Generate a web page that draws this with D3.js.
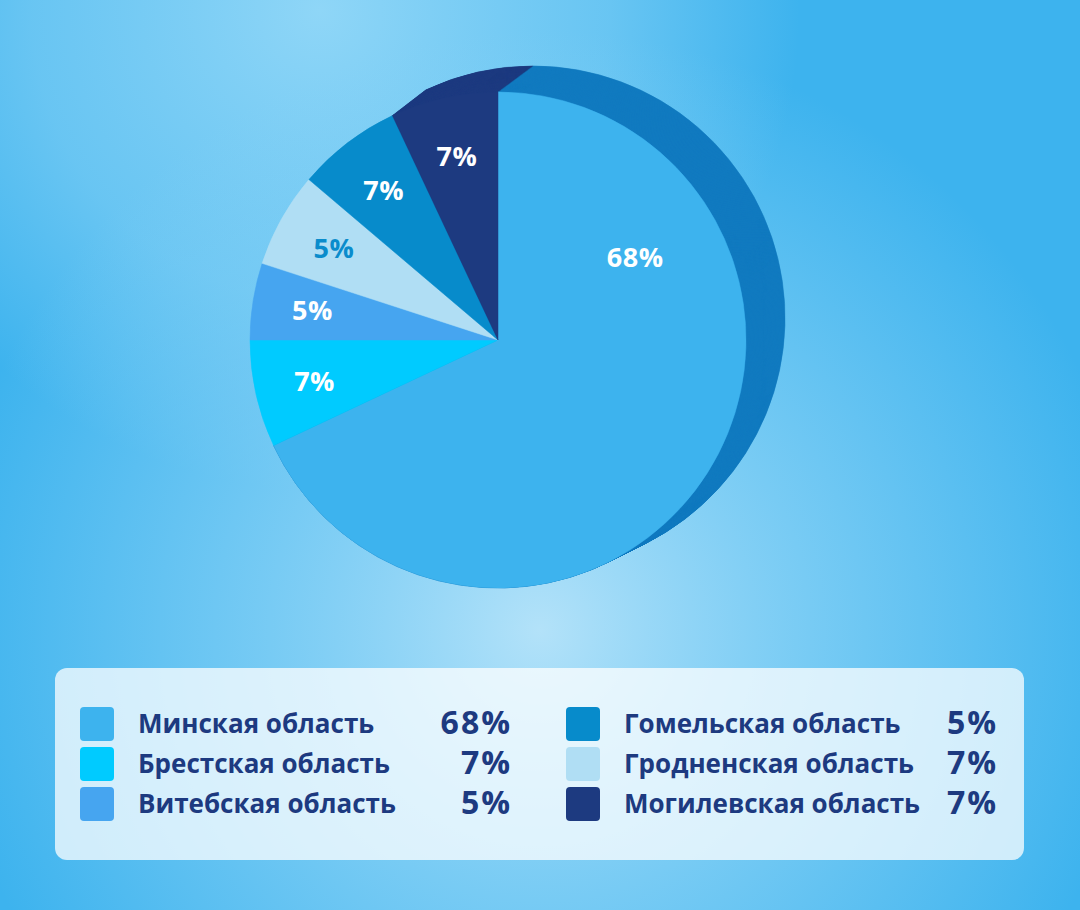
<!DOCTYPE html>
<html>
<head>
<meta charset="utf-8">
<script src="https://cdn.jsdelivr.net/npm/d3@7"></script>
<style>
  html, body { margin: 0; padding: 0; background: #3db3ee; }
  svg { display: block; }
  text { font-family: "Open Sans", "Noto Sans", sans-serif; }
</style>
</head>
<body>
<div id="chart"></div>
<script>
// regions, in the order the slices run clockwise from 12 o'clock
var sliceRegions = ["Минская область", "Брестская область", "Витебская область",
                    "Гродненская область", "Гомельская область", "Могилевская область"];
// angular share of each slice as drawn in the picture
var sliceShares = [68, 7, 5, 6.2, 6.8, 7];
// labels printed on the slices
var sliceLabels = ["68%", "7%", "5%", "5%", "7%", "7%"];

// legend, column by column
var legendRegions = ["Минская область", "Брестская область", "Витебская область",
                     "Гомельская область", "Гродненская область", "Могилевская область"];
var legendValues = ["68%", "7%", "5%", "5%", "7%", "7%"];

var regionColor = d3.scaleOrdinal()
  .domain(["Минская область", "Брестская область", "Витебская область",
           "Гомельская область", "Гродненская область", "Могилевская область"])
  .range(["#3db3ee", "#00cbff", "#46a5f0", "#078bcb", "#b0def4", "#1d3a80"]);

// only the big slice and the top one show their side
var sideColor = d3.scaleOrdinal()
  .domain(regionColor.domain())
  .range(["#117ac0", "none", "none", "none", "none", "#1d3a80"]);

var width = 1080, height = 910;
var cx = 498, cy = 340, radius = 248;
var depth = {x: 35, y: -22, grow: 4};

var svg = d3.select("#chart").append("svg")
    .attr("width", width)
    .attr("height", height);

// background
var defs = svg.append("defs");
var glow = defs.append("radialGradient")
    .attr("id", "glow")
    .attr("gradientUnits", "userSpaceOnUse")
    .attr("cx", 540).attr("cy", 630).attr("r", 600);
glow.append("stop").attr("offset", "0%").attr("stop-color", "#b3e2f9").attr("stop-opacity", 1);
glow.append("stop").attr("offset", "45%").attr("stop-color", "#8bd3f6").attr("stop-opacity", 0.75);
glow.append("stop").attr("offset", "100%").attr("stop-color", "#8bd3f6").attr("stop-opacity", 0);

var glowTop = defs.append("radialGradient")
    .attr("id", "glowTop")
    .attr("gradientUnits", "userSpaceOnUse")
    .attr("cx", 320).attr("cy", 10).attr("r", 480);
glowTop.append("stop").attr("offset", "0%").attr("stop-color", "#8fd6f7").attr("stop-opacity", 1);
glowTop.append("stop").attr("offset", "60%").attr("stop-color", "#80cff5").attr("stop-opacity", 0.65);
glowTop.append("stop").attr("offset", "100%").attr("stop-color", "#80cff5").attr("stop-opacity", 0);

svg.append("rect").attr("width", width).attr("height", height).attr("fill", "#3db3ee");
svg.append("rect").attr("width", width).attr("height", height).attr("fill", "url(#glowTop)");
svg.append("rect").attr("width", width).attr("height", height).attr("fill", "url(#glow)");

// pie
var pie = d3.pie().sort(null).value(function(d) { return d; });
var slices = pie(sliceShares);

var pieG = svg.append("g");

// extruded side: the pie swept from the back face to the front face
var steps = 48;
for (var i = 0; i <= steps; i++) {
  var t = 1 - i / steps;
  var arcSide = d3.arc().innerRadius(0).outerRadius(radius + depth.grow * t);
  pieG.append("g")
      .attr("transform", "translate(" + (cx + depth.x * t) + "," + (cy + depth.y * t) + ")")
    .selectAll("path")
    .data(slices)
    .enter().append("path")
      .attr("d", arcSide)
      .attr("fill", function(d, j) { return sideColor(sliceRegions[j]); })
      .attr("stroke", function(d, j) { return sideColor(sliceRegions[j]); })
      .attr("stroke-width", 0.6);
}

var arc = d3.arc().innerRadius(0).outerRadius(radius);
var front = pieG.append("g")
    .attr("transform", "translate(" + cx + "," + cy + ")");

front.selectAll("path")
  .data(slices)
  .enter().append("path")
    .attr("d", arc)
    .attr("fill", function(d, j) { return regionColor(sliceRegions[j]); })
    .attr("stroke", function(d, j) { return regionColor(sliceRegions[j]); })
    .attr("stroke-width", 0.5);

// slice labels
var labelArc = d3.arc().innerRadius(188).outerRadius(188);
front.selectAll("text")
  .data(slices)
  .enter().append("text")
    .attr("transform", function(d, j) {
      if (j === 0) {
        // the big slice carries its label up in the right half
        var a = 59 * Math.PI / 180, r = 160;
        return "translate(" + (r * Math.sin(a)) + "," + (-r * Math.cos(a)) + ")";
      }
      return "translate(" + labelArc.centroid(d) + ")";
    })
    .attr("text-anchor", "middle")
    .attr("dy", "0.36em")
    .style("font-size", "27px")
    .style("font-weight", 700)
    .style("letter-spacing", "0.5px")
    .attr("fill", function(d, j) {
      return sliceRegions[j] === "Гродненская область" ? "#0a8ccc" : "#ffffff";
    })
    .text(function(d, j) { return sliceLabels[j]; });

// legend
var legend = svg.append("g").attr("transform", "translate(55,668)");

legend.append("rect")
    .attr("width", 969)
    .attr("height", 192)
    .attr("rx", 12)
    .attr("fill", "#ffffff")
    .attr("fill-opacity", 0.74);

var colX = [25, 511];
var textDx = 58;
var valueX = [457, 943];

var item = legend.selectAll(".item")
  .data(legendRegions)
  .enter().append("g")
    .attr("class", "item")
    .attr("transform", function(d, i) {
      return "translate(" + colX[Math.floor(i / 3)] + "," + (39 + (i % 3) * 40) + ")";
    });

item.append("rect")
    .attr("width", 34)
    .attr("height", 34)
    .attr("rx", 4)
    .attr("fill", function(d) { return regionColor(d); });

item.append("text")
    .attr("x", textDx)
    .attr("y", 26)
    .style("font-size", "26px")
    .style("font-weight", 700)
    .attr("fill", "#1d3a80")
    .text(function(d) { return d; });

item.append("text")
    .attr("x", function(d, i) { return valueX[Math.floor(i / 3)] - colX[Math.floor(i / 3)]; })
    .attr("y", 27)
    .attr("text-anchor", "end")
    .style("font-size", "32px")
    .style("font-weight", 700)
    .style("letter-spacing", "2px")
    .attr("fill", "#1d3a80")
    .text(function(d, i) { return legendValues[i]; });
</script>
</body>
</html>
